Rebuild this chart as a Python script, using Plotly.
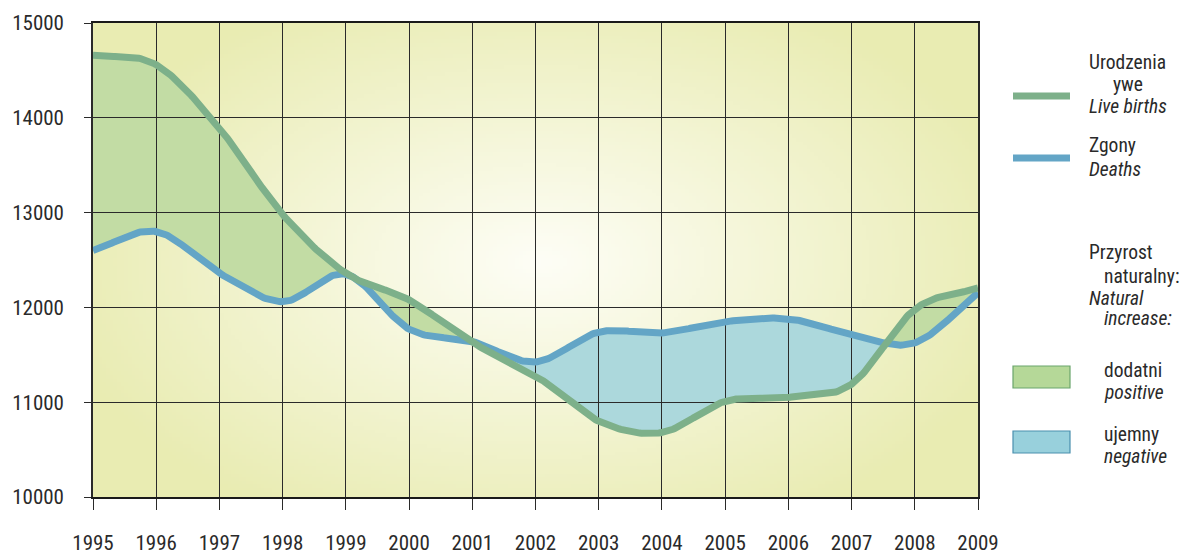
import zlib, struct, base64
import numpy as np
import plotly.graph_objects as go

# ---------------- data ----------------
years = list(range(1995, 2010))
births = [14660, 14560, 13890, 12980, 12360, 12080, 11630, 11280, 10800, 10680, 11010, 11050, 11190, 11980, 12205]
deaths = [12600, 12800, 12360, 12060, 12350, 11770, 11640, 11425, 11740, 11730, 11850, 11880, 11715, 11625, 12155]
ytick_vals = [10000, 11000, 12000, 13000, 14000, 15000]

# ---------------- styling ----------------
W, H = 1185, 554
ML, MR, MT, MB = 93, 207, 23, 57
PW, PH = W - ML - MR, H - MT - MB
FONT = "Roboto Condensed, Liberation Sans Narrow, Arial Narrow, Liberation Sans, sans-serif"
TXT = "#2a2a2a"
C_BIRTH = "#7db08a"
C_DEATH = "#63a5c6"
F_POS = "#c2dca4"
F_NEG = "#acd8dc"


def px_x(p):
    return (p - ML) / PW


def px_y(p):
    return (H - MB - p) / PH


def catmull(xs, ys, n=40):
    xs = np.asarray(xs, float)
    ys = np.asarray(ys, float)
    m = np.zeros_like(ys)
    m[1:-1] = (ys[2:] - ys[:-2]) / 2.0
    m[0] = ys[1] - ys[0]
    m[-1] = ys[-1] - ys[-2]
    ox, oy = [], []
    for i in range(len(xs) - 1):
        t = np.linspace(0, 1, n, endpoint=False)
        h00 = 2 * t**3 - 3 * t**2 + 1
        h10 = t**3 - 2 * t**2 + t
        h01 = -2 * t**3 + 3 * t**2
        h11 = t**3 - t**2
        ox.extend(xs[i] + t * (xs[i + 1] - xs[i]))
        oy.extend(h00 * ys[i] + h10 * m[i] + h01 * ys[i + 1] + h11 * m[i + 1])
    ox.append(xs[-1])
    oy.append(ys[-1])
    return np.array(ox), np.array(oy)


sx, sb = catmull(years, births)
_, sd = catmull(years, deaths)
top = np.maximum(sb, sd)


def poly(xa, upper, lower):
    pts = [f"{x:.4f},{y:.2f}" for x, y in zip(xa, upper)]
    pts += [f"{x:.4f},{y:.2f}" for x, y in zip(xa[::-1], lower[::-1])]
    return "M" + " L".join(pts) + " Z"


# ---------------- background gradient (PNG) ----------------
gw, gh = 240, 130
gx = np.linspace(0, PW, gw)[None, :] + ML
gy = np.linspace(0, PH, gh)[:, None] + MT
cx, cy, rx, ry = 540, 262, 500, 300
t = np.clip(np.sqrt(((gx - cx) / rx) ** 2 + ((gy - cy) / ry) ** 2), 0, 1)
c0 = np.array([254, 254, 247], float)
c1 = np.array([233, 236, 178], float)
img = (c0[None, None, :] * (1 - t[..., None]) + c1[None, None, :] * t[..., None]).astype(np.uint8)


def chunk(tag, data):
    c = struct.pack(">I", len(data)) + tag + data
    return c + struct.pack(">I", zlib.crc32(tag + data) & 0xFFFFFFFF)


raw = b"".join(b"\x00" + img[r].tobytes() for r in range(gh))
png = (b"\x89PNG\r\n\x1a\n" + chunk(b"IHDR", struct.pack(">IIBBBBB", gw, gh, 8, 2, 0, 0, 0))
       + chunk(b"IDAT", zlib.compress(raw, 9)) + chunk(b"IEND", b""))
bg_src = "data:image/png;base64," + base64.b64encode(png).decode()

# ---------------- figure ----------------
fig = go.Figure()
fig.add_trace(go.Scatter(x=sx, y=sd, mode="lines", line=dict(color=C_DEATH, width=7),
                         hoverinfo="skip", showlegend=False))
fig.add_trace(go.Scatter(x=sx, y=sb, mode="lines", line=dict(color=C_BIRTH, width=7),
                         hoverinfo="skip", showlegend=False))

shapes = [
    dict(type="path", xref="x", yref="y", path=poly(sx, top, sd), fillcolor=F_POS,
         line=dict(width=0), layer="below"),
    dict(type="path", xref="x", yref="y", path=poly(sx, top, sb), fillcolor=F_NEG,
         line=dict(width=0), layer="below"),
    # legend symbols
    dict(type="line", xref="paper", yref="paper", x0=px_x(1013), x1=px_x(1070), y0=px_y(96), y1=px_y(96),
         line=dict(color=C_BIRTH, width=7)),
    dict(type="line", xref="paper", yref="paper", x0=px_x(1013), x1=px_x(1070), y0=px_y(158), y1=px_y(158),
         line=dict(color=C_DEATH, width=7)),
    dict(type="rect", xref="paper", yref="paper", x0=px_x(1013), x1=px_x(1070), y0=px_y(388), y1=px_y(366),
         fillcolor="#b5d898", line=dict(color="#6aa56c", width=1.2)),
    dict(type="rect", xref="paper", yref="paper", x0=px_x(1013), x1=px_x(1070), y0=px_y(453), y1=px_y(431),
         fillcolor="#98d0dc", line=dict(color="#4a8fae", width=1.2)),
]

LF = 19.5
ann = []


def txt(s, x, y, anchor="left"):
    ann.append(dict(text=s, xref="paper", yref="paper", x=px_x(x), y=px_y(y), xanchor=anchor,
                    yanchor="middle", showarrow=False, font=dict(family=FONT, size=LF, color=TXT)))


txt("Urodzenia", 1087, 62)
txt("ywe", 1128, 84, "center")
txt("<i>Live births</i>", 1087, 107)
txt("Zgony", 1087, 145)
txt("<i>Deaths</i>", 1087, 169)
txt("Przyrost", 1087, 253)
txt("naturalny:", 1102, 276)
txt("<i>Natural</i>", 1087, 298)
txt("<i>increase:</i>", 1102, 319)
txt("dodatni", 1102, 370)
txt("<i>positive</i>", 1102, 392)
txt("ujemny", 1102, 434)
txt("<i>negative</i>", 1102, 456)

fig.update_layout(
    width=W, height=H,
    autosize=False,
    margin=dict(l=ML, r=MR, t=MT, b=MB, pad=0, autoexpand=False),
    paper_bgcolor="white",
    plot_bgcolor="rgba(0,0,0,0)",
    shapes=shapes,
    annotations=ann,
    images=[dict(source=bg_src, xref="paper", yref="paper", x=0, y=1, sizex=1, sizey=1,
                 sizing="stretch", xanchor="left", yanchor="top", layer="below")],
    xaxis=dict(range=[1995, 2009], tickvals=years, ticktext=[str(y) for y in years],
               automargin=False,
               showgrid=True, gridcolor="#2a2a2a", gridwidth=1.4,
               showline=True, linecolor="#1a1a1a", linewidth=1.6, mirror=True,
               ticks="outside", ticklen=11, tickwidth=1.4, tickcolor="#2a2a2a",
               ticklabelstandoff=15, zeroline=False,
               tickfont=dict(family=FONT, size=21, color=TXT)),
    yaxis=dict(range=[10000, 15000], tickvals=ytick_vals, ticktext=[str(v) for v in ytick_vals],
               automargin=False,
               showgrid=True, gridcolor="#2a2a2a", gridwidth=1.4,
               showline=True, linecolor="#2a2a2a", linewidth=1.6, mirror=True,
               ticks="outside", ticklen=7, tickwidth=1.4, tickcolor="#2a2a2a",
               ticklabelstandoff=16, zeroline=False,
               tickfont=dict(family=FONT, size=21, color=TXT)),
)

fig.write_html("out.html", config={"displayModeBar": False},
               post_script="document.body.style.margin='0px';")
